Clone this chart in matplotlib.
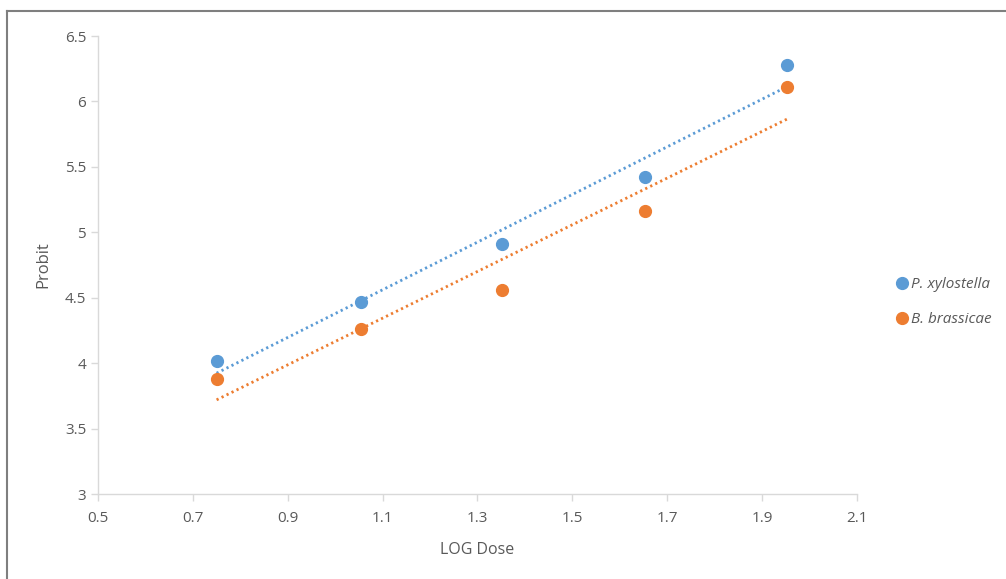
import numpy as np
import matplotlib.pyplot as plt
from matplotlib.lines import Line2D

# Data
log_dose = [0.75, 1.054, 1.352, 1.653, 1.952]
probit_px = [4.02, 4.47, 4.91, 5.42, 6.28]   # P. xylostella
probit_bb = [3.88, 4.26, 4.56, 5.16, 6.11]   # B. brassicae
series_names = ["P. xylostella", "B. brassicae"]
x_ticks = [0.5, 0.7, 0.9, 1.1, 1.3, 1.5, 1.7, 1.9, 2.1]
y_ticks = [3, 3.5, 4, 4.5, 5, 5.5, 6, 6.5]

BLUE = "#5B9BD5"
ORANGE = "#ED7D31"
TEXT = "#595959"
AXIS = "#D9D9D9"

plt.rcParams["font.family"] = ["Open Sans", "DejaVu Sans"]

fig = plt.figure(figsize=(10.06, 5.79), dpi=100, facecolor="white")
ax = fig.add_axes([0.0974, 0.1468, 0.7545, 0.7910])

for y, c in [(probit_px, BLUE), (probit_bb, ORANGE)]:
    ax.plot(log_dose, y, "o", color=c, markersize=8.5, zorder=3)
    slope, icpt = np.polyfit(log_dose, y, 1)
    xs = np.array([log_dose[0], log_dose[-1]])
    ax.plot(xs, slope * xs + icpt, color=c, linewidth=2,
            linestyle=(0, (0.8, 1.2)), zorder=2)

ax.set_xlim(0.5, 2.1)
ax.set_ylim(3, 6.5)
ax.set_xticks(x_ticks)
ax.set_xticklabels([f"{v:g}" for v in x_ticks])
ax.set_yticks(y_ticks)
ax.set_yticklabels([f"{v:g}" for v in y_ticks])

for side in ["top", "right"]:
    ax.spines[side].set_visible(False)
for side in ["left", "bottom"]:
    ax.spines[side].set_color(AXIS)
    ax.spines[side].set_linewidth(1)
ax.tick_params(axis="both", colors=AXIS, labelcolor=TEXT, labelsize=11,
               length=5, width=1)
ax.tick_params(axis="x", pad=7)

ax.set_xlabel("LOG Dose", color=TEXT, fontsize=11.5, labelpad=12)
ax.set_ylabel("Probit", color=TEXT, fontsize=12, labelpad=10)

handles = [Line2D([], [], marker="o", linestyle="none", color=c, markersize=8.5)
           for c in (BLUE, ORANGE)]
leg = fig.legend(handles, series_names, loc="center left",
                 bbox_to_anchor=(0.874, 0.478), frameon=False,
                 handletextpad=0.0, labelspacing=1.3, handlelength=1.2,
                 prop={"style": "italic", "size": 11})
for t in leg.get_texts():
    t.set_color(TEXT)

# outer chart border (top and left visible)
fig.add_artist(Line2D([0.007, 1.0], [0.981, 0.981], color="#7F7F7F",
                      linewidth=1.5, transform=fig.transFigure))
fig.add_artist(Line2D([0.007, 0.007], [0.0, 0.981], color="#7F7F7F",
                      linewidth=1.5, transform=fig.transFigure))

fig.savefig("out.png", dpi=100, facecolor="white")
